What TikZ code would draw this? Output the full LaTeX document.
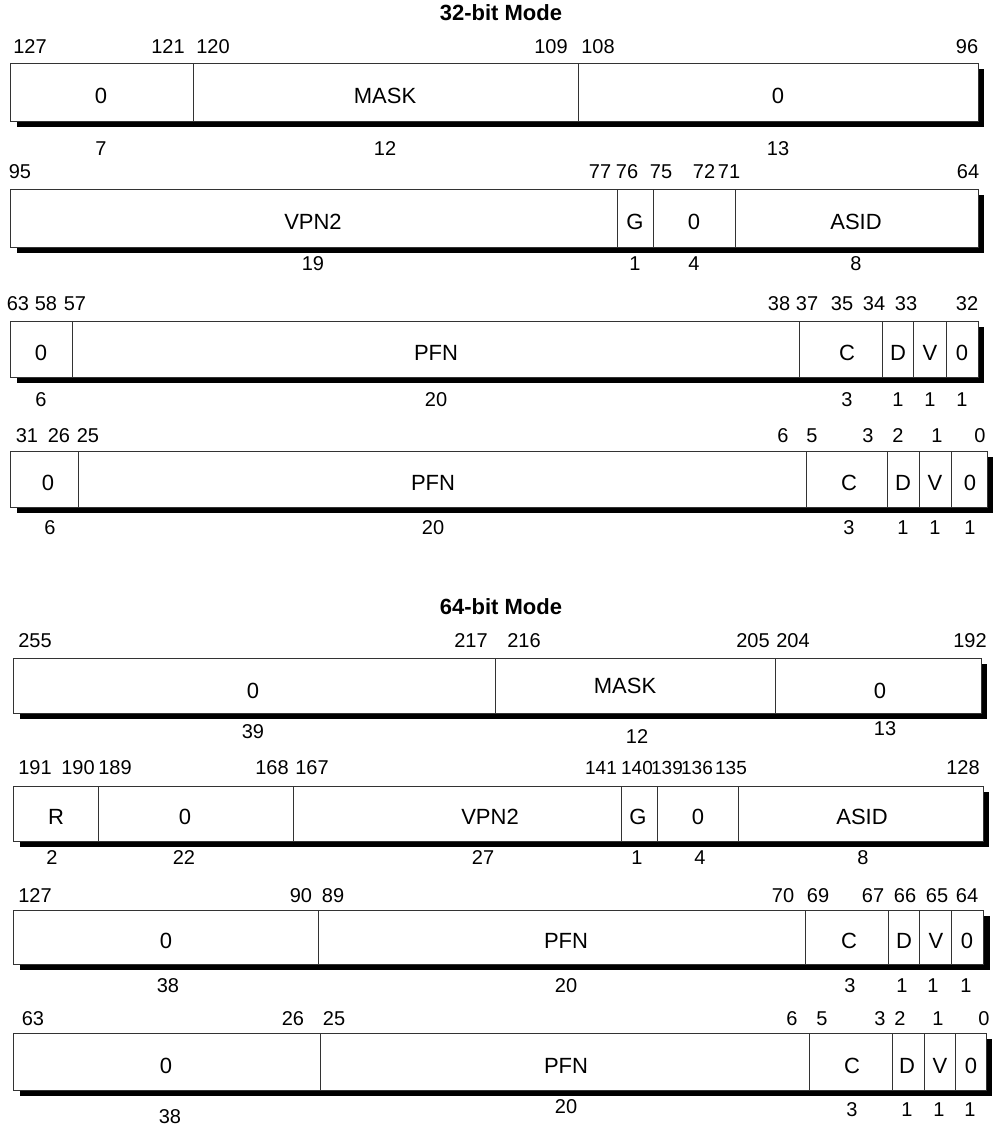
\documentclass[tikz,border=0pt]{standalone}
\usepackage{fontspec}
\setmainfont{Liberation Sans}
\usepackage{tikz}

\begin{document}
\begin{tikzpicture}[x=1pt, y=-1pt,
  reg/.style={draw=black!80, line width=0.8pt, fill=white},
  sep/.style={draw=black!80, line width=0.8pt},
  shadow/.style={fill=black},
  bitno/.style={font=\fontsize{20}{22}\selectfont, inner sep=0pt},
  tightno/.style={font=\fontsize{19}{21}\selectfont, inner sep=0pt},
  field/.style={font=\fontsize{22}{24}\selectfont, inner sep=0pt},
  title/.style={font=\bfseries\fontsize{22}{24}\selectfont, inner sep=0pt}]
\useasboundingbox (0,0) rectangle (999,1128);

% 32-bit mode
\node[title] (t32) at (501,13) {32-bit Mode};

% EntryHi mask word
\fill[shadow] (17,69) rectangle (984,127);
\draw[reg] (10,63) rectangle (978,121);
\draw[sep] (193,63) -- (193,121) (578,63) -- (578,121);
\foreach \x/\t [count=\i] in {30/127,168/121,213/120,551/109,598/108,967/96}
  \node[bitno] (ha\i) at (\x,47) {\t};
\foreach \x/\t [count=\i] in {101/0,385/MASK,778/0}
  \node[field] (fa\i) at (\x,96) {\t};
\foreach \x/\t [count=\i] in {101/7,385/12,778/13}
  \node[bitno] (wa\i) at (\x,149) {\t};

% VPN2 word
\fill[shadow] (17,195) rectangle (984,253);
\draw[reg] (10,189) rectangle (978,247);
\draw[sep] (617,189) -- (617,247) (653,189) -- (653,247) (735,189) -- (735,247);
\foreach \x/\t [count=\i] in {20/95,600/77,627/76,661/75,704/72,729/71,968/64}
  \node[bitno] (hb\i) at (\x,172) {\t};
\foreach \x/\t [count=\i] in {313/VPN2,635/G,694/0,856/ASID}
  \node[field] (fb\i) at (\x,222) {\t};
\foreach \x/\t [count=\i] in {313/19,635/1,694/4,856/8}
  \node[bitno] (wb\i) at (\x,264) {\t};

% first PFN word
\fill[shadow] (17,327) rectangle (984,383);
\draw[reg] (10,321) rectangle (978,377);
\foreach \x in {72,799,882,913,946}
  \draw[sep] (\x,321) -- (\x,377);
\foreach \x/\t [count=\i] in {18/63,46/58,75/57,779/38,807/37,842/35,874/34,906/33,967/32}
  \node[bitno] (hc\i) at (\x,304) {\t};
\foreach \x/\t [count=\i] in {41/0,436/PFN,847/C,898/D,930/V,962/0}
  \node[field] (fc\i) at (\x,353) {\t};
\foreach \x/\t [count=\i] in {41/6,436/20,847/3,898/1,930/1,962/1}
  \node[bitno] (wc\i) at (\x,400) {\t};

% second PFN word
\fill[shadow] (17,457) rectangle (993,513);
\draw[reg] (10,451) rectangle (987,507);
\foreach \x in {78,806,887,919,951}
  \draw[sep] (\x,451) -- (\x,507);
\foreach \x/\t [count=\i] in {27/31,59/26,88/25,783/6,812/5,868/3,898/2,937/1,980/0}
  \node[bitno] (hd\i) at (\x,436) {\t};
\foreach \x/\t [count=\i] in {48/0,433/PFN,849/C,903/D,935/V,970/0}
  \node[field] (fd\i) at (\x,483) {\t};
\foreach \x/\t [count=\i] in {50/6,433/20,849/3,903/1,935/1,970/1}
  \node[bitno] (wd\i) at (\x,528) {\t};

% 64-bit mode
\node[title] (t64) at (501,607) {64-bit Mode};

% EntryHi mask word
\fill[shadow] (20,664) rectangle (987,719);
\draw[reg] (13,658) rectangle (981,713);
\draw[sep] (495,658) -- (495,713) (775,658) -- (775,713);
\foreach \x/\t [count=\i] in {35/255,471/217,524/216,753/205,793/204,970/192}
  \node[bitno] (he\i) at (\x,641) {\t};
\node[field] (fe1) at (253,691) {0};
\node[field] (fe2) at (625,686) {MASK};
\node[field] (fe3) at (880,691) {0};
\node[bitno] (we1) at (253,732) {39};
\node[bitno] (we2) at (637,737) {12};
\node[bitno] (we3) at (885,729) {13};

% VPN2 word
\fill[shadow] (20,792) rectangle (989,847);
\draw[reg] (13,786) rectangle (983,841);
\foreach \x in {98,293,621,657,738}
  \draw[sep] (\x,786) -- (\x,841);
\foreach \x/\t [count=\i] in {35/191,78/190,115/189,272/168,312/167,963/128}
  \node[bitno] (hf\i) at (\x,768) {\t};
\foreach \x/\t [count=\i from 7] in {601/141,637/140,667/139,697/136,731/135}
  \node[tightno] (hf\i) at (\x,768) {\t};
\foreach \x/\t [count=\i] in {56/R,185/0,490/VPN2,638/G,698/0,862/ASID}
  \node[field] (ff\i) at (\x,817) {\t};
\foreach \x/\t [count=\i] in {52/2,184/22,483/27,637/1,700/4,863/8}
  \node[bitno] (wf\i) at (\x,858) {\t};

% first PFN word
\fill[shadow] (20,916) rectangle (990,970);
\draw[reg] (13,910) rectangle (983,964);
\foreach \x in {318,805,888,919,951}
  \draw[sep] (\x,910) -- (\x,964);
\foreach \x/\t [count=\i] in {35/127,301/90,333/89,783/70,818/69,873/67,905/66,937/65,967/64}
  \node[bitno] (hg\i) at (\x,896) {\t};
\foreach \x/\t [count=\i] in {166/0,566/PFN,849/C,904/D,936/V,967/0}
  \node[field] (fg\i) at (\x,941) {\t};
\foreach \x/\t [count=\i] in {168/38,566/20,850/3,902/1,933/1,966/1}
  \node[bitno] (wg\i) at (\x,986) {\t};

% second PFN word
\fill[shadow] (20,1039) rectangle (992,1096);
\draw[reg] (13,1033) rectangle (986,1090);
\foreach \x in {320,809,892,924,955}
  \draw[sep] (\x,1033) -- (\x,1090);
\foreach \x/\t [count=\i] in {33/63,293/26,334/25,792/6,822/5,880/3,900/2,938/1,984/0}
  \node[bitno] (hh\i) at (\x,1019) {\t};
\foreach \x/\t [count=\i] in {166/0,566/PFN,852/C,907/D,940/V,971/0}
  \node[field] (fh\i) at (\x,1066) {\t};
\node[bitno] (wh1) at (170,1117) {38};
\node[bitno] (wh2) at (566,1107) {20};
\foreach \x/\t [count=\i from 3] in {852/3,907/1,939/1,970/1}
  \node[bitno] (wh\i) at (\x,1110) {\t};
\end{tikzpicture}
\end{document}
